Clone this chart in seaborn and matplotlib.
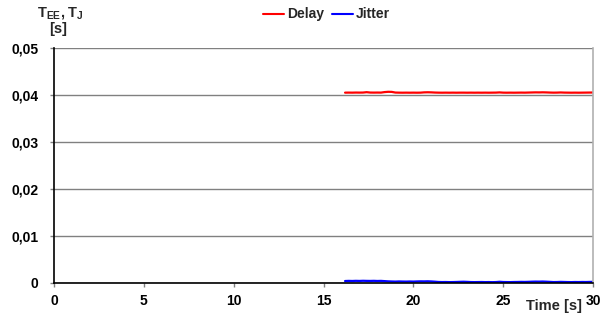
import numpy as np
import pandas as pd
import matplotlib
matplotlib.use("Agg")
import matplotlib.pyplot as plt
from matplotlib.lines import Line2D
from matplotlib.ticker import FuncFormatter
import seaborn as sns

# Sample times [s] and measured end-to-end delay / jitter [s]
time_s = [16.2, 16.4, 16.6, 16.8, 17.0, 17.2, 17.4, 17.6, 17.8, 18.0,
          18.2, 18.4, 18.6, 18.8, 19.0, 19.2, 19.4, 19.6, 19.8, 20.0,
          20.2, 20.4, 20.6, 20.8, 21.0, 21.2, 21.4, 21.6, 21.8, 22.0,
          22.2, 22.4, 22.6, 22.8, 23.0, 23.2, 23.4, 23.6, 23.8, 24.0,
          24.2, 24.4, 24.6, 24.8, 25.0, 25.2, 25.4, 25.6, 25.8, 26.0,
          26.2, 26.4, 26.6, 26.8, 27.0, 27.2, 27.4, 27.6, 27.8, 28.0,
          28.2, 28.4, 28.6, 28.8, 29.0, 29.2, 29.4, 29.6, 29.8, 30.0]

delay = [0.04050, 0.04051, 0.04050, 0.04052, 0.04051, 0.04052, 0.04060, 0.04052, 0.04051, 0.04052,
         0.04051, 0.04062, 0.04068, 0.04066, 0.04052, 0.04050, 0.04049, 0.04050, 0.04049, 0.04050,
         0.04049, 0.04050, 0.04056, 0.04058, 0.04056, 0.04052, 0.04050, 0.04049, 0.04050, 0.04049,
         0.04050, 0.04049, 0.04050, 0.04050, 0.04049, 0.04050, 0.04049, 0.04050, 0.04049, 0.04050,
         0.04049, 0.04050, 0.04051, 0.04055, 0.04050, 0.04049, 0.04050, 0.04049, 0.04050, 0.04051,
         0.04050, 0.04052, 0.04054, 0.04056, 0.04055, 0.04057, 0.04055, 0.04052, 0.04050, 0.04051,
         0.04054, 0.04051, 0.04050, 0.04049, 0.04050, 0.04049, 0.04050, 0.04051, 0.04052, 0.04053]

jitter = [0.00042, 0.00045, 0.00043, 0.00046, 0.00044, 0.00047, 0.00045, 0.00044, 0.00046, 0.00043,
          0.00045, 0.00040, 0.00035, 0.00032, 0.00030, 0.00033, 0.00031, 0.00030, 0.00032, 0.00030,
          0.00033, 0.00035, 0.00034, 0.00036, 0.00033, 0.00028, 0.00022, 0.00020, 0.00021, 0.00019,
          0.00020, 0.00022, 0.00025, 0.00027, 0.00024, 0.00020, 0.00019, 0.00020, 0.00021, 0.00019,
          0.00020, 0.00018, 0.00020, 0.00026, 0.00021, 0.00020, 0.00019, 0.00021, 0.00022, 0.00024,
          0.00023, 0.00025, 0.00028, 0.00030, 0.00029, 0.00031, 0.00028, 0.00024, 0.00020, 0.00021,
          0.00024, 0.00022, 0.00020, 0.00019, 0.00021, 0.00020, 0.00022, 0.00021, 0.00023, 0.00025]

series_names = ["Delay", "Jitter"]
series_colors = ["#ff0000", "#0000ff"]
x_ticks = [0, 5, 10, 15, 20, 25, 30]
y_ticks = [0, 0.01, 0.02, 0.03, 0.04, 0.05]

df = pd.concat([
    pd.DataFrame({"t": time_s, "value": delay, "series": series_names[0]}),
    pd.DataFrame({"t": time_s, "value": jitter, "series": series_names[1]}),
])

sns.set_theme(style="white")
plt.rcParams["font.family"] = ["Liberation Sans", "DejaVu Sans"]
plt.rcParams["mathtext.fontset"] = "custom"
plt.rcParams["mathtext.rm"] = "Liberation Sans"
plt.rcParams["mathtext.bf"] = "Liberation Sans:bold"

fig = plt.figure(figsize=(6.13, 3.2), dpi=100)
ax = fig.add_axes([54 / 613, 37 / 320, 539 / 613, 235 / 320])

sns.lineplot(data=df, x="t", y="value", hue="series",
             palette=dict(zip(series_names, series_colors)),
             linewidth=1.6, ax=ax, legend=False)

ax.set_xlim(0, 30)
ax.set_ylim(0, 0.05)
ax.set_xticks(x_ticks)
ax.set_yticks(y_ticks)
ax.yaxis.set_major_formatter(FuncFormatter(
    lambda v, p: "0" if v == 0 else f"{v:.2f}".replace(".", ",")))
ax.set_xlabel("")
ax.set_ylabel("")

for lab in ax.get_xticklabels() + ax.get_yticklabels():
    lab.set_fontweight("bold")
    lab.set_fontsize(10)
    lab.set_color("black")

ax.tick_params(axis="both", which="both", direction="out", length=3,
               width=1, color="#808080", bottom=True, left=True)
ax.tick_params(axis="x", pad=5)
ax.tick_params(axis="y", pad=8)

ax.grid(axis="y", color="#808080", linewidth=1)
ax.grid(axis="x", visible=False)
ax.set_axisbelow(True)

for side in ["left", "bottom"]:
    ax.spines[side].set_color("black")
    ax.spines[side].set_linewidth(1.2)
ax.spines["top"].set_visible(False)
ax.spines["right"].set_color("#b0b0b0")
ax.spines["right"].set_linewidth(1.2)

handles = [Line2D([0], [0], color=c, linewidth=1.5) for c in series_colors]
fig.legend(handles, series_names, loc="center", bbox_to_anchor=(0.533, 0.955),
           ncol=2, frameon=False, handlelength=1.5, handletextpad=0.2,
           columnspacing=0.6, prop={"weight": "bold", "size": 10})

fig.text(60 / 613, 1 - 13 / 320, r"$\mathbf{T_{EE}, T_J}$", ha="center", va="center",
         fontsize=10.5)
fig.text(58 / 613, 1 - 29 / 320, "[s]", ha="center", va="center",
         fontsize=10.5, fontweight="bold")
fig.text(554 / 613, 1 - 306 / 320, "Time [s]", ha="center", va="center",
         fontsize=10.5, fontweight="bold")

fig.savefig("out.png", dpi=100)
